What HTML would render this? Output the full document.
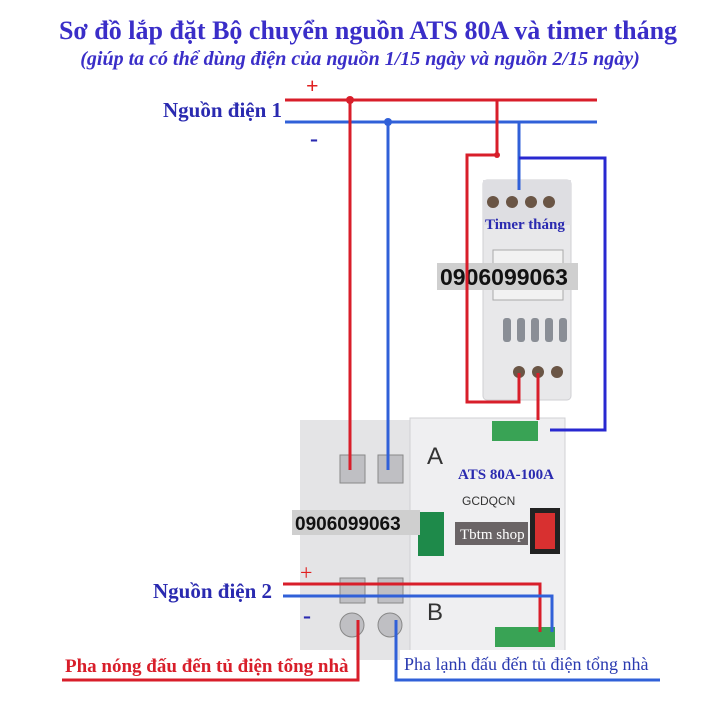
<!DOCTYPE html><html><head><meta charset="utf-8"><style>body{margin:0;background:#fff}svg{display:block}text{font-family:"Liberation Serif",serif}.s{font-family:"Liberation Sans",sans-serif}</style></head><body>
<svg width="720" height="720" viewBox="0 0 720 720">
<text x="368" y="39" text-anchor="middle" font-size="26" font-weight="bold" fill="#3a2ec8">Sơ đồ lắp đặt Bộ chuyển nguồn ATS 80A và timer tháng</text>
<text x="360" y="65" text-anchor="middle" font-size="20" font-weight="bold" font-style="italic" fill="#3a2ec8">(giúp ta có thể dùng điện của nguồn 1/15 ngày và nguồn 2/15 ngày)</text>
<text x="163" y="117" font-size="21" font-weight="bold" fill="#2a2ab0">Nguồn điện 1</text>
<text x="306" y="93" font-size="22" font-weight="bold" fill="#e02020">+</text>
<text x="310" y="146" font-size="24" font-weight="bold" fill="#2a2ab0">-</text>
<rect x="483" y="180" width="88" height="220" rx="4" fill="#e8e8ea" stroke="#cfcfd3"/>
<rect x="483" y="180" width="88" height="45" fill="#dedee2"/>
<g fill="#6a5545"><circle cx="493" cy="202" r="6"/><circle cx="512" cy="202" r="6"/><circle cx="531" cy="202" r="6"/><circle cx="549" cy="202" r="6"/></g>
<rect x="493" y="250" width="70" height="50" fill="#f2f2f2" stroke="#aaa"/>
<g fill="#8a8e96"><rect x="503" y="318" width="8" height="24" rx="3"/><rect x="517" y="318" width="8" height="24" rx="3"/><rect x="531" y="318" width="8" height="24" rx="3"/><rect x="545" y="318" width="8" height="24" rx="3"/><rect x="559" y="318" width="8" height="24" rx="3"/></g>
<g fill="#6a5545"><circle cx="519" cy="372" r="6"/><circle cx="538" cy="372" r="6"/><circle cx="557" cy="372" r="6"/></g>
<text x="485" y="229" font-size="15" font-weight="bold" fill="#2a2ab0">Timer tháng</text>
<rect x="300" y="420" width="110" height="240" fill="#e4e4e6"/>
<rect x="410" y="418" width="155" height="242" fill="#efeff1" stroke="#d0d0d4"/>
<g fill="#bfbfc3" stroke="#888"><rect x="340" y="455" width="25" height="28"/><rect x="378" y="455" width="25" height="28"/><rect x="340" y="578" width="25" height="25"/><rect x="378" y="578" width="25" height="25"/><circle cx="352" cy="625" r="12"/><circle cx="390" cy="625" r="12"/></g>
<rect x="418" y="512" width="26" height="44" fill="#1e8a4a"/>
<rect x="530" y="508" width="30" height="46" fill="#222"/><rect x="535" y="513" width="20" height="36" fill="#d83030"/>
<rect x="492" y="421" width="46" height="20" fill="#39a355"/><rect x="495" y="627" width="60" height="20" fill="#39a355"/>
<text x="427" y="464" font-size="24" fill="#333" class="s">A</text>
<text x="427" y="620" font-size="24" fill="#333" class="s">B</text>
<text x="458" y="479" font-size="15" font-weight="bold" fill="#2a2ab0">ATS 80A-100A</text>
<text x="462" y="505" font-size="12" fill="#333" class="s">GCDQCN</text>
<rect x="455" y="522" width="73" height="23" fill="#6a6466"/>
<text x="460" y="539" font-size="15" fill="#fff">Tbtm shop</text>
<rect x="437" y="263" width="141" height="27" fill="#cfcfcf"/>
<text x="440" y="285" font-size="23" font-weight="bold" fill="#111" class="s">0906099063</text>
<rect x="292" y="510" width="128" height="25" fill="#cfcfcf"/>
<text x="295" y="530" font-size="19" font-weight="bold" fill="#111" class="s">0906099063</text>
<g fill="none" stroke-width="3">
<path d="M285 100H597" stroke="#d81e2a"/>
<path d="M285 122H597" stroke="#3060d8"/>
<path d="M350 100V470" stroke="#d81e2a"/>
<path d="M388 122V470" stroke="#3060d8"/>
<path d="M497 100V155H467V402H519V373" stroke="#d81e2a"/>
<path d="M519 122V190" stroke="#3060d8"/>
<path d="M519 158H605V430H550" stroke="#2828d0"/>
<path d="M538 373V420" stroke="#d81e2a"/>
<path d="M283 584H540V632" stroke="#d81e2a"/>
<path d="M283 596H552V632" stroke="#3060d8"/>
<path d="M358 620V680H62" stroke="#d81e2a"/>
<path d="M396 620V680H660" stroke="#3060d8"/>
</g>
<circle cx="350" cy="100" r="4" fill="#d81e2a"/><circle cx="388" cy="122" r="4" fill="#3060d8"/><circle cx="497" cy="155" r="3" fill="#d81e2a"/>
<rect x="60" y="650" width="296" height="26" fill="#fff"/>
<rect x="400" y="650" width="262" height="26" fill="#fff"/>
<text x="153" y="598" font-size="21" font-weight="bold" fill="#2a2ab0">Nguồn điện 2</text>
<text x="300" y="580" font-size="22" fill="#e02020">+</text>
<text x="303" y="623" font-size="24" font-weight="bold" fill="#2a2ab0">-</text>
<text x="65" y="672" font-size="19" font-weight="bold" fill="#d81e2a">Pha nóng đấu đến tủ điện tổng nhà</text>
<text x="404" y="670" font-size="18" fill="#2a3ab0">Pha lạnh đấu đến tủ điện tổng nhà</text>
</svg></body></html>
